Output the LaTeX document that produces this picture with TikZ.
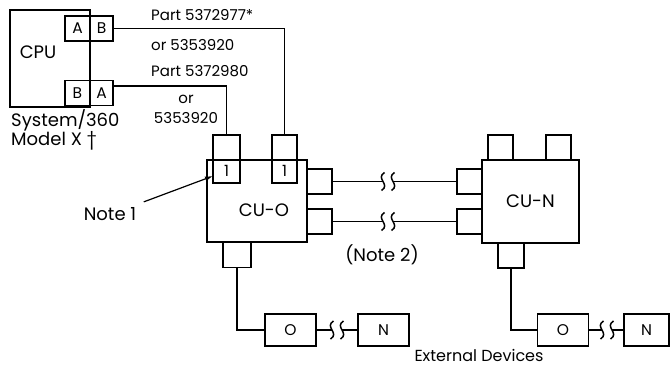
\documentclass[tikz,border=0pt]{standalone}
\usepackage{fontspec}
\setmainfont{Poppins}
\usetikzlibrary{arrows.meta,positioning}

\begin{document}
\begin{tikzpicture}[x=1pt,y=-1pt,font=\fontsize{18}{21}\selectfont,
  box/.style={draw,line width=1.7pt,inner sep=0pt,outer sep=0pt},
  port/.style={draw,line width=1.7pt,inner sep=0pt,outer sep=0pt,minimum width=25pt,minimum height=25pt,font=\fontsize{15.5}{17}\selectfont},
  dev/.style={port,minimum width=51pt,minimum height=32pt},
  wire/.style={line width=1.2pt},
  part/.style={font=\fontsize{15}{17}\selectfont,inner sep=0pt,anchor=west},
  brk/.pic={\draw[line width=1.5pt] (1.5pt,9pt) .. controls (-8pt,3pt) and (8pt,-3pt) .. (-1.5pt,-9pt);},
  >={Latex[length=8pt,width=5pt]}]
\useasboundingbox (0,0) rectangle (670,367);

% processor and its two channel ports
\node[box,minimum width=80pt,minimum height=97pt] (cpu) at (50,58.5) {};
\node (cpulbl) at (38,52) {CPU};
\node[port] (ca1) at (77.5,28.5) {A};
\node[port,minimum width=23pt,right=0pt of ca1] (cb1) {B};
\node[port] (cb2) at (77.5,93) {B};
\node[port,minimum width=23pt,right=0pt of cb2] (ca2) {A};
\node[inner sep=0pt,anchor=west] (sys) at (11,120) {System/360};
\node[inner sep=0pt,anchor=west] (mdl) at (11,141) {Model X †};

% cable part numbers
\node[part] (pt1) at (151,15) {Part 5372977*};
\node[part] (pt2) at (151,45) {or 5353920};
\node[part] (pt3) at (151,71) {Part 5372980};
\node[part,anchor=center] (pt4) at (186,99) {or};
\node[part,anchor=center] (pt5) at (186,118) {5353920};

% first control unit
\node[box,minimum width=100pt,minimum height=82pt] (cuo) at (257,201) {};
\node (cuolbl) at (264,210) {CU-O};
\node[port,minimum width=27pt,minimum height=48pt,label={[font=\fontsize{15.5}{17}\selectfont,yshift=-12pt]center:1}] (q1) at (226.5,159) {};
\node[port,minimum width=25pt,minimum height=48pt,label={[font=\fontsize{15.5}{17}\selectfont,yshift=-12pt]center:1}] (q2) at (284.5,159) {};
\node[port] (r1) at (319.5,181.5) {};
\node[port] (r2) at (319.5,221.5) {};
\node[port,minimum width=28pt] (s1) at (237,255) {};

% last control unit
\node[box,minimum width=97pt,minimum height=83pt] (cun) at (530.5,201.5) {CU-N};
\node[port] (t1) at (500.5,147.5) {};
\node[port] (t2) at (558.5,147.5) {};
\node[port] (l1) at (469.5,181.5) {};
\node[port] (l2) at (469.5,221.5) {};
\node[port,minimum width=26pt] (u1) at (511,255.5) {};

% external devices
\node[dev] (o1) at (290.5,330) {O};
\node[dev] (n1) at (383.5,330) {N};
\node[dev] (o2) at (563,330) {O};
\node[dev,minimum width=45pt] (n2) at (646.5,330) {N};

\node (note1) at (110,214) {Note 1};
\node (note2) at (382,255) {(Note 2)};
\node[font=\fontsize{16}{19}\selectfont] (ext) at (479,355) {External Devices};

% breaks in the cables
\coordinate (k1a) at (383,181.5); \coordinate (k1b) at (393,181.5);
\coordinate (k2a) at (383,221.5); \coordinate (k2b) at (393,221.5);
\coordinate (k3a) at (332,330); \coordinate (k3b) at (342,330);
\coordinate (k4a) at (602,330); \coordinate (k4b) at (612,330);
\foreach \k in {k1a,k1b,k2a,k2b,k3a,k3b,k4a,k4b} \pic at (\k) {brk};

\draw[wire] (cb1.east) -| (q2.north);
\draw[wire] ([yshift=7pt]ca2.east) -| (q1.north);
\draw[wire] (r1.east) -- (k1a); \draw[wire] (k1b) -- (l1.west);
\draw[wire] (r2.east) -- (k2a); \draw[wire] (k2b) -- (l2.west);
\draw[wire] (s1.south) |- (o1.west);
\draw[wire] (o1.east) -- (k3a); \draw[wire] (k3b) -- (n1.west);
\draw[wire] (u1.south) |- (o2.west);
\draw[wire] (o2.east) -- (k4a); \draw[wire] (k4b) -- (n2.west);
\draw[wire,->] ([shift={(4pt,2pt)}]note1.north east) -- ([yshift=7pt]q1.south west);
\end{tikzpicture}
\end{document}
